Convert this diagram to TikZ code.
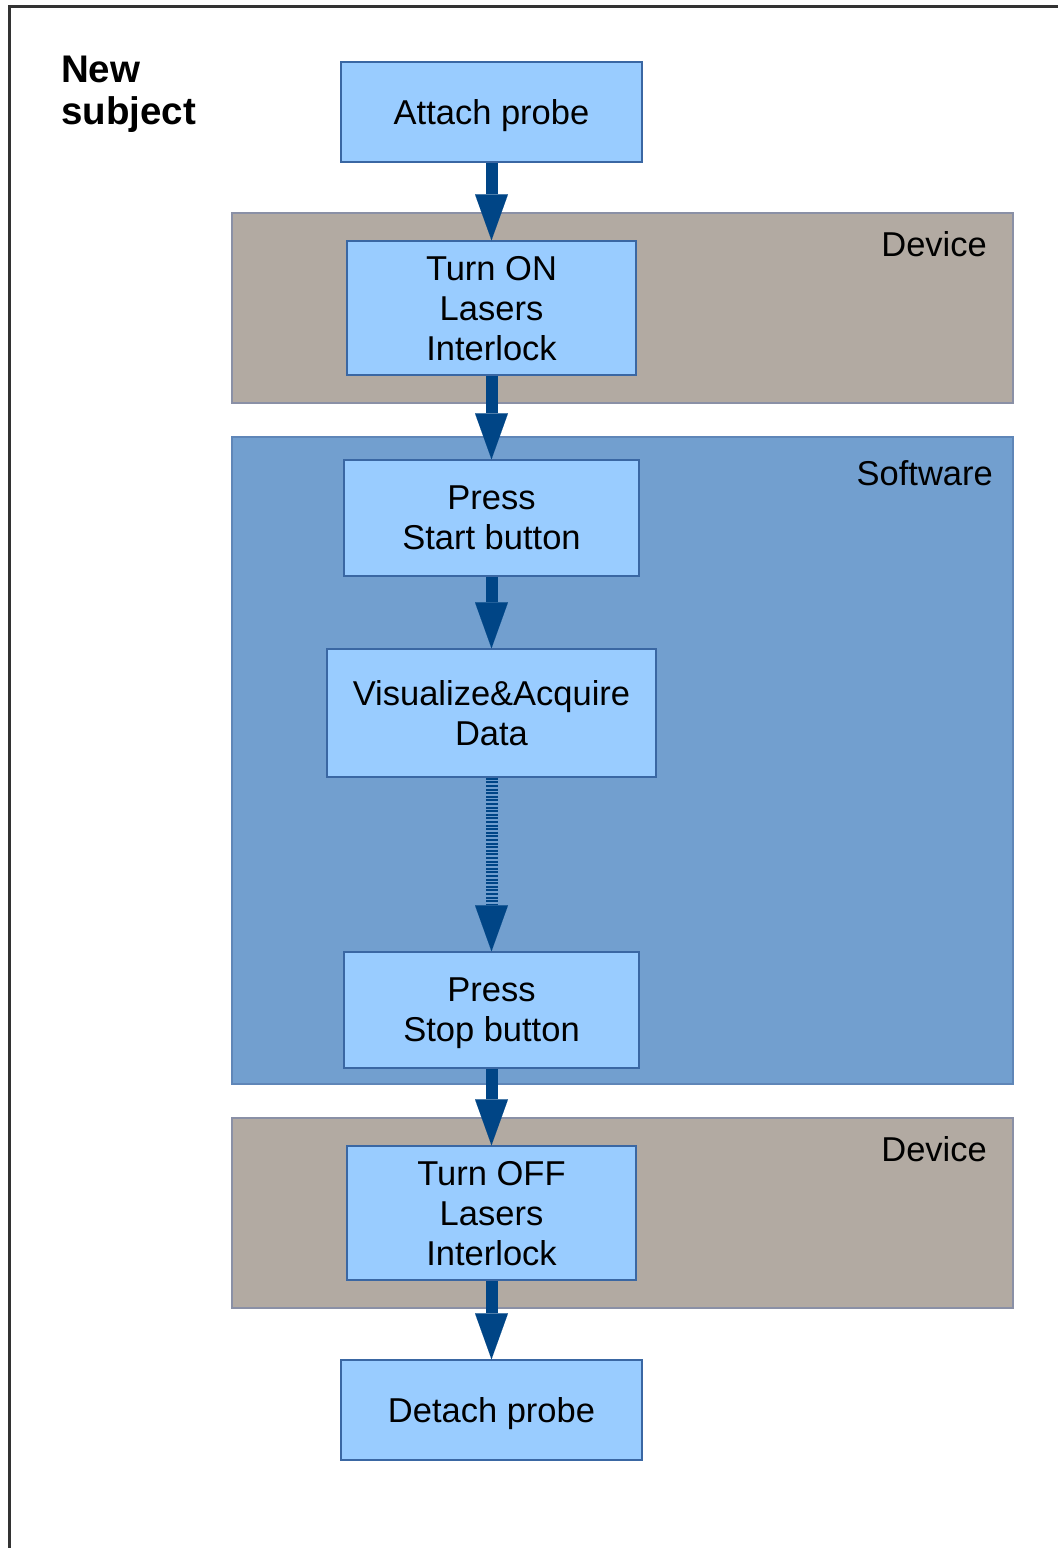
\documentclass[tikz,border=0pt]{standalone}
\usepackage{fontspec}
\setmainfont{Liberation Sans}
\usetikzlibrary{arrows.meta}
\definecolor{boxfill}{HTML}{99CCFF}
\definecolor{boxline}{HTML}{3A67A3}
\definecolor{swfill}{HTML}{729FCF}
\definecolor{swline}{HTML}{5F86B8}
\definecolor{devfill}{HTML}{B2AAA2}
\definecolor{devline}{HTML}{8A90A6}
\definecolor{flowcol}{HTML}{004586}
\tikzset{
  txt/.style={font=\fontsize{34.5}{40}\selectfont, align=center},
  stepbox/.style={txt, draw=boxline, fill=boxfill, line width=1.5pt, inner sep=0pt, text depth=0pt},
  band/.style={line width=1.5pt},
  bandlabel/.style={txt, anchor=east, inner sep=0pt},
  flow/.style={draw=flowcol, line width=12pt,
    -{Triangle[width=33pt,length=46pt,line width=0.01pt,fill=flowcol,color=flowcol]}},
  flowdotted/.style={flow, dash pattern=on 2pt off 1.6pt}
}
\begin{document}
\begin{tikzpicture}[x=1pt,y=-1pt]
\useasboundingbox (0,0) rectangle (1058,1548);
% page frame (top and left edges)
\draw[line width=3pt, color=black!80] (9,1548) -- (9,6) -- (1058,6);

% stage bands
\filldraw[band, fill=devfill, draw=devline] (232,213) rectangle (1013,403);
\filldraw[band, fill=swfill, draw=swline] (232,437) rectangle (1013,1084);
\filldraw[band, fill=devfill, draw=devline] (232,1118) rectangle (1013,1308);
\node[bandlabel] (devlabA) at (987,244) {Device};
\node[bandlabel] (swlab) at (993,473) {Software};
\node[bandlabel] (devlabB) at (987,1149) {Device};

% heading
\node[txt, font=\fontsize{38.5}{42}\selectfont\bfseries, align=left, anchor=west, inner sep=0pt]
  (subject) at (61,94) {New\\subject};

% steps
\node[stepbox, minimum width=301pt, minimum height=100pt] (attach) at (491.5,112) {Attach probe};
\node[stepbox, minimum width=289pt, minimum height=134pt] (turnon) at (491.5,308) {Turn ON\\Lasers\\Interlock};
\node[stepbox, minimum width=295pt, minimum height=116pt] (start) at (491.5,518) {Press\\Start button};
\node[stepbox, minimum width=329pt, minimum height=128pt] (visual) at (491.5,713) {Visualize\&Acquire\\Data};
\node[stepbox, minimum width=295pt, minimum height=116pt] (stop) at (491.5,1010) {Press\\Stop button};
\node[stepbox, minimum width=289pt, minimum height=134pt] (turnoff) at (491.5,1213) {Turn OFF\\Lasers\\Interlock};
\node[stepbox, minimum width=301pt, minimum height=100pt] (detach) at (491.5,1410) {Detach probe};

% flow
\draw[flow] (attach.south) -- (turnon.north);
\draw[flow] (turnon.south) -- (start.north);
\draw[flow] (start.south) -- (visual.north);
\draw[flowdotted] (visual.south) -- (stop.north);
\draw[flow] (stop.south) -- (turnoff.north);
\draw[flow] (turnoff.south) -- (detach.north);
\end{tikzpicture}
\end{document}
